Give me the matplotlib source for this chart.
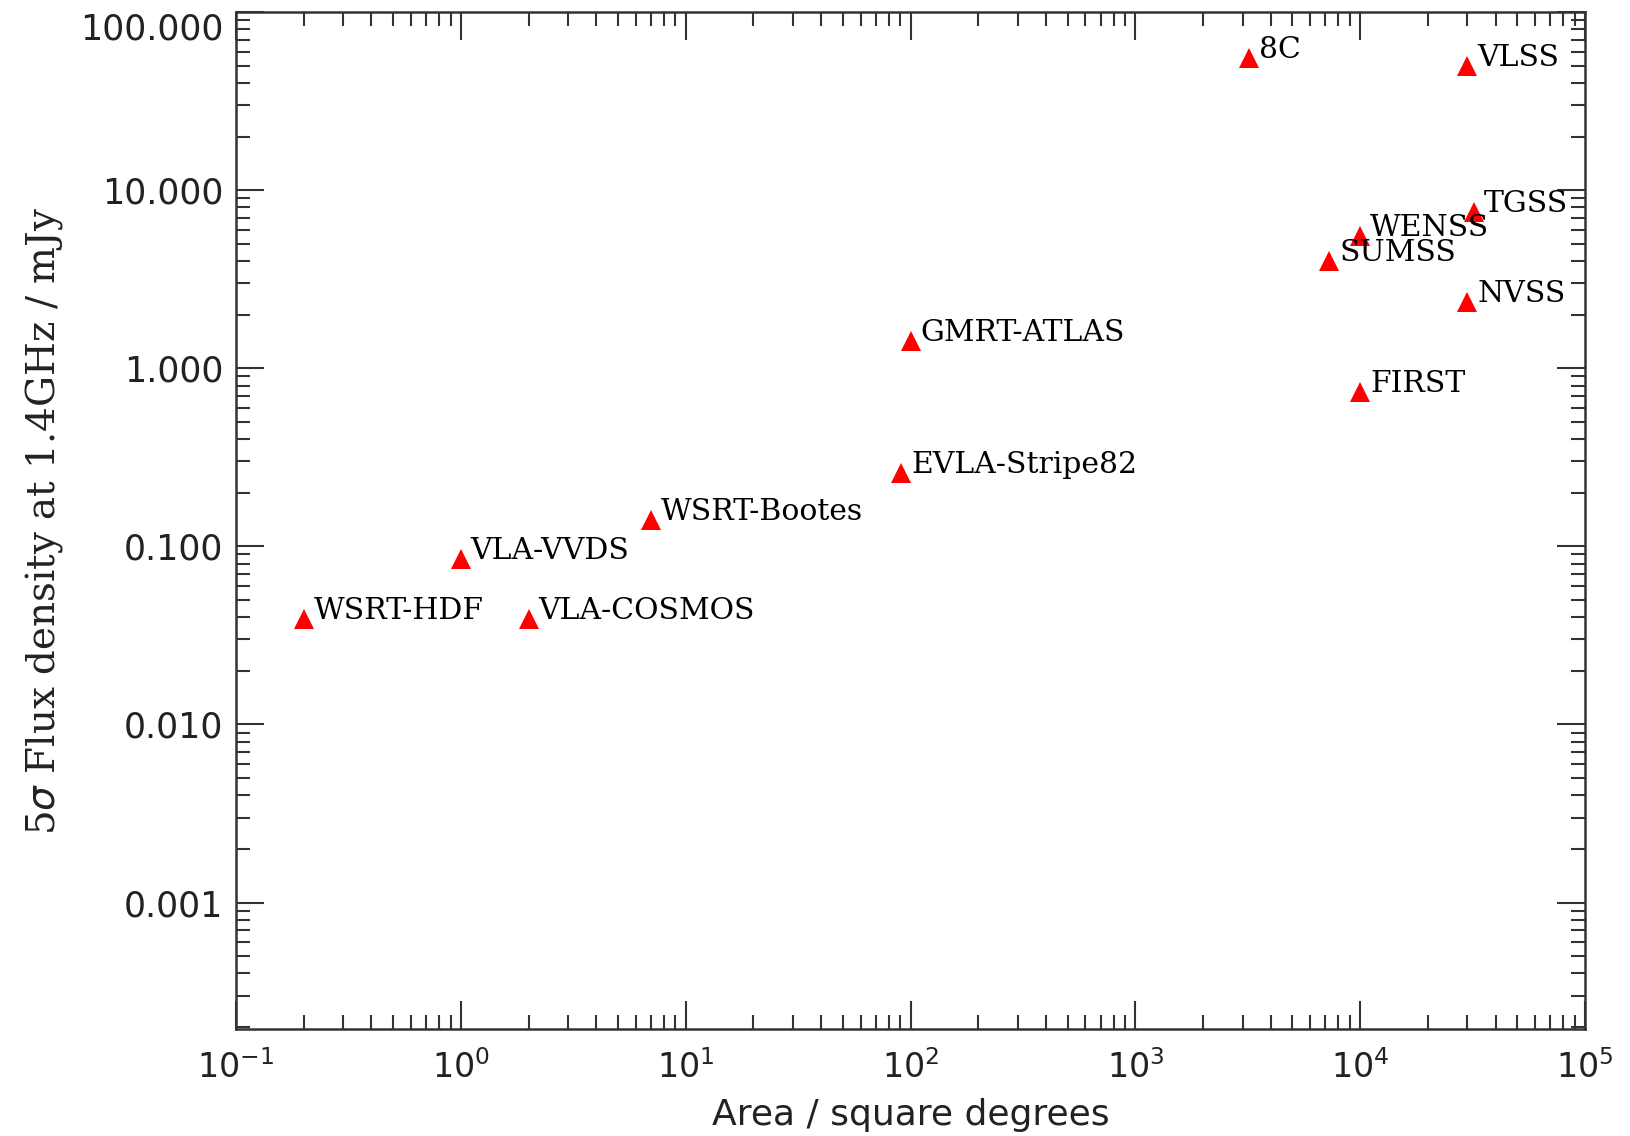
import numpy as np
import matplotlib.pyplot as plt
from matplotlib.ticker import LogLocator, FuncFormatter, NullFormatter

# survey name, area (sq. deg) and 5 sigma flux limit (mJy)
surveys = ["WSRT-HDF", "VLA-VVDS", "VLA-COSMOS", "WSRT-Bootes", "EVLA-Stripe82",
           "GMRT-ATLAS", "8C", "VLSS", "TGSS", "WENSS", "SUMSS", "NVSS", "FIRST"]
area = [0.2, 1.0, 2.0, 7.0, 91.0, 100.0, 3200.0, 30000.0, 32000.0, 10000.0, 7300.0, 30000.0, 10000.0]
flux = [0.039, 0.085, 0.039, 0.14, 0.257, 1.42, 55.0, 50.0, 7.5, 5.5, 4.0, 2.35, 0.74]

xticks = [0.1, 1, 10, 100, 1000, 1e4, 1e5]
yticks = [0.001, 0.01, 0.1, 1, 10, 100]

fig = plt.figure(figsize=(16.3, 11.36), dpi=100)
ax = fig.add_axes([0.1448, 0.0942, 0.8276, 0.8952])

ax.plot(area, flux, linestyle="none", marker="^", markersize=14, color="red", markeredgewidth=0)
for name, a, f in zip(surveys, area, flux):
    ax.annotate(name, (a, f), xytext=(7, 0), textcoords="offset points",
                ha="left", va="baseline", fontsize=21.5, family="DejaVu Serif", color="black")

ax.set_xscale("log")
ax.set_yscale("log")
ax.set_xlim(0.1, 1e5)
ax.set_ylim(0.000195, 100)

ax.set_xticks(xticks)
ax.set_yticks(yticks)
ax.xaxis.set_minor_locator(LogLocator(base=10, subs=np.arange(2, 10), numticks=20))
ax.yaxis.set_minor_locator(LogLocator(base=10, subs=np.arange(2, 10), numticks=20))
ax.xaxis.set_major_formatter(FuncFormatter(lambda v, p: r"$10^{%d}$" % round(np.log10(v))))
ax.yaxis.set_major_formatter(FuncFormatter(lambda v, p: "%.3f" % v))
ax.xaxis.set_minor_formatter(NullFormatter())
ax.yaxis.set_minor_formatter(NullFormatter())

edge = "#333333"
for s in ax.spines.values():
    s.set_linewidth(1.8)
    s.set_color(edge)
ax.tick_params(which="both", direction="in", top=True, right=True, color=edge, width=1.5)
ax.tick_params(which="major", length=20)
ax.tick_params(which="minor", length=10)
ax.tick_params(axis="y", which="major", labelsize=25, pad=9, labelcolor="#222222")
ax.tick_params(axis="x", which="major", labelsize=24, pad=15, labelcolor="#222222")

ax.set_xlabel("Area / square degrees", fontsize=26, color="#222222")
ax.set_ylabel(r"5$\sigma$ Flux density at 1.4GHz / mJy", fontsize=28, family="DejaVu Serif", color="#222222")
ax.xaxis.set_label_coords(0.5, -0.068)
ax.yaxis.set_label_coords(-0.127, 0.5)

# top label sits below its tick, as in the original
fig.canvas.draw()
for t in ax.yaxis.get_major_ticks():
    if np.isclose(t.get_loc(), 100):
        t.label1.set_va("top")
        t.label1.set_y(t.label1.get_position()[1])

fig.savefig("out.png", dpi=100)
